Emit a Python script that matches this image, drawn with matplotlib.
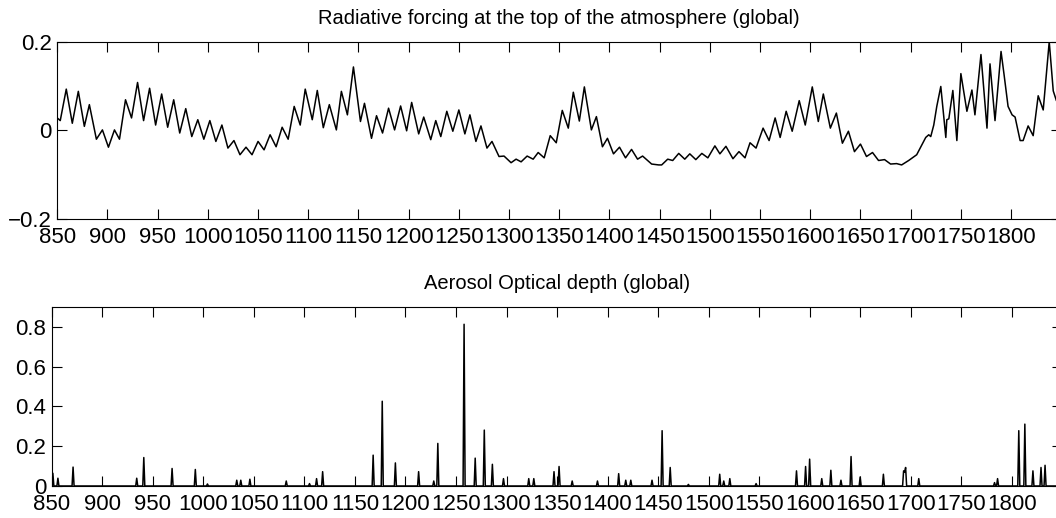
import numpy as np
import matplotlib
matplotlib.use("Agg")
import matplotlib.pyplot as plt

plt.rcParams['font.family'] = ['Liberation Sans', 'DejaVu Sans']
plt.rcParams['font.size'] = 15

# radiative forcing (W/m2), peaks and troughs of the solar cycles
rf_years = [850, 853, 859, 865, 871, 877, 882, 889, 895, 901, 907, 912, 918, 924,
            930, 936, 942, 948, 954, 960, 966, 972, 978, 984, 990, 996, 1002, 1008,
            1014, 1020, 1026, 1032, 1038, 1044, 1050, 1056, 1062, 1068, 1074, 1080,
            1086, 1092, 1097, 1104, 1109, 1115, 1121, 1128, 1133, 1139, 1145, 1152,
            1156, 1163, 1168, 1174, 1180, 1186, 1192, 1198, 1203, 1210, 1215, 1222,
            1227, 1232, 1238, 1244, 1250, 1256, 1261, 1267, 1272, 1278, 1283, 1290,
            1295, 1302, 1307, 1312, 1318, 1324, 1329, 1335, 1341, 1347, 1353, 1359,
            1364, 1370, 1375, 1382, 1387, 1393, 1398, 1404, 1410, 1416, 1422, 1428,
            1433, 1442, 1449, 1452, 1458, 1463, 1469, 1475, 1480, 1486, 1492, 1498,
            1505, 1510, 1516, 1523, 1529, 1535, 1540, 1546, 1553, 1559, 1565, 1570,
            1576, 1582, 1589, 1595, 1602, 1608, 1613, 1620, 1626, 1632, 1638, 1644,
            1650, 1656, 1662, 1668, 1674, 1680, 1686, 1691, 1698, 1706, 1715, 1718,
            1720, 1723, 1726, 1730, 1735, 1736, 1738, 1742, 1746, 1750, 1756, 1761,
            1764, 1770, 1776, 1779, 1784, 1790, 1793, 1797, 1801, 1804, 1809, 1812,
            1817, 1822, 1827, 1832, 1838, 1842, 1845]
rf_values = [0.028, 0.022, 0.093, 0.016, 0.088, 0.009, 0.058, -0.020, 0.001, -0.038,
             0.001, -0.020, 0.069, 0.028, 0.108, 0.022, 0.095, 0.012, 0.082, 0.007,
             0.069, -0.006, 0.049, -0.014, 0.024, -0.020, 0.022, -0.025, 0.012, -0.040,
             -0.023, -0.055, -0.038, -0.055, -0.025, -0.044, -0.010, -0.037, 0.007,
             -0.020, 0.054, 0.012, 0.093, 0.024, 0.090, 0.006, 0.058, 0.001, 0.088,
             0.035, 0.143, 0.020, 0.061, -0.018, 0.033, -0.006, 0.050, 0.001, 0.055,
             -0.001, 0.063, -0.008, 0.030, -0.021, 0.022, -0.014, 0.043, -0.002, 0.046,
             -0.008, 0.035, -0.025, 0.010, -0.040, -0.025, -0.059, -0.058, -0.073,
             -0.065, -0.071, -0.058, -0.065, -0.050, -0.062, -0.012, -0.028, 0.045,
             0.005, 0.086, 0.021, 0.098, 0.001, 0.031, -0.037, -0.018, -0.053, -0.038,
             -0.062, -0.043, -0.065, -0.058, -0.076, -0.078, -0.078, -0.065, -0.068,
             -0.052, -0.065, -0.053, -0.066, -0.052, -0.062, -0.035, -0.053, -0.036,
             -0.064, -0.048, -0.062, -0.028, -0.040, 0.005, -0.023, 0.028, -0.016,
             0.043, -0.002, 0.067, 0.012, 0.098, 0.020, 0.082, 0.005, 0.039, -0.029,
             -0.002, -0.048, -0.031, -0.059, -0.050, -0.068, -0.066, -0.076, -0.075,
             -0.078, -0.068, -0.055, -0.016, -0.010, -0.014, 0.012, 0.054, 0.099,
             -0.016, 0.024, 0.026, 0.090, -0.023, 0.128, 0.043, 0.091, 0.035, 0.171,
             0.005, 0.150, 0.022, 0.178, 0.126, 0.054, 0.035, 0.030, -0.023, -0.023,
             0.010, -0.012, 0.078, 0.046, 0.200, 0.089, 0.068]

# volcanic aerosol optical depth, eruption years and peak values
aod_years = [851, 856, 871, 934, 941, 969, 992, 1004, 1033, 1037, 1046, 1082, 1105,
             1112, 1118, 1168, 1177, 1190, 1213, 1228, 1232, 1258, 1269, 1278, 1286,
             1297, 1322, 1327, 1347, 1352, 1365, 1390, 1411, 1418, 1423, 1444, 1454,
             1462, 1480, 1511, 1515, 1521, 1547, 1587, 1596, 1600, 1612, 1621, 1631,
             1641, 1650, 1673, 1693, 1694, 1695, 1708, 1783, 1786, 1807, 1813, 1821,
             1829, 1833]
aod_peaks = [0.064, 0.039, 0.095, 0.039, 0.143, 0.088, 0.083, 0.010, 0.029, 0.029,
             0.034, 0.025, 0.012, 0.037, 0.072, 0.155, 0.426, 0.116, 0.072, 0.025,
             0.214, 0.813, 0.140, 0.281, 0.109, 0.037, 0.037, 0.037, 0.072, 0.098,
             0.025, 0.025, 0.062, 0.029, 0.029, 0.029, 0.278, 0.093, 0.008, 0.059,
             0.025, 0.037, 0.012, 0.076, 0.098, 0.135, 0.037, 0.079, 0.029, 0.148,
             0.045, 0.059, 0.076, 0.070, 0.093, 0.037, 0.017, 0.037, 0.278, 0.311,
             0.076, 0.093, 0.104]

aod_t = np.arange(850, 1851)
aod = np.zeros(len(aod_t))
aod[np.array(aod_years) - 850] = aod_peaks

xticks = list(range(850, 1801, 50))

fig = plt.figure(figsize=(10.56, 5.18), dpi=100)
ax1 = fig.add_axes([0.0542, 0.5772, 0.9508, 0.3423])
ax2 = fig.add_axes([0.0491, 0.0618, 0.9568, 0.3456])

ax1.plot(rf_years, rf_values, color='k', lw=1.1)
ax1.set_xlim(850, 1850)
ax1.set_ylim(-0.2, 0.2)
ax1.set_yticks([-0.2, 0, 0.2])
ax1.set_yticklabels(['\u22120.2', '0', '0.2'])
ax1.set_title('Radiative forcing at the top of the atmosphere (global)', fontsize=14.5, pad=13)

ax2.plot(aod_t, aod, color='k', lw=1.1)
ax2.set_xlim(850, 1850)
ax2.set_ylim(0, 0.9)
ax2.set_yticks([0, 0.2, 0.4, 0.6, 0.8])
ax2.set_yticklabels(['0', '0.2', '0.4', '0.6', '0.8'])
ax2.set_title('Aerosol Optical depth (global)', fontsize=14.5, pad=13)

for ax in (ax1, ax2):
    ax.set_xticks(xticks)
    ax.set_xticklabels([str(t) for t in xticks])
    ax.tick_params(direction='in', top=True, right=True, length=7, width=0.8,
                   labelsize=16)
    ax.tick_params(axis='x', pad=6)
    ax.tick_params(axis='y', pad=4)
    for s in ax.spines.values():
        s.set_linewidth(0.8)

fig.savefig('out.png', dpi=100)
